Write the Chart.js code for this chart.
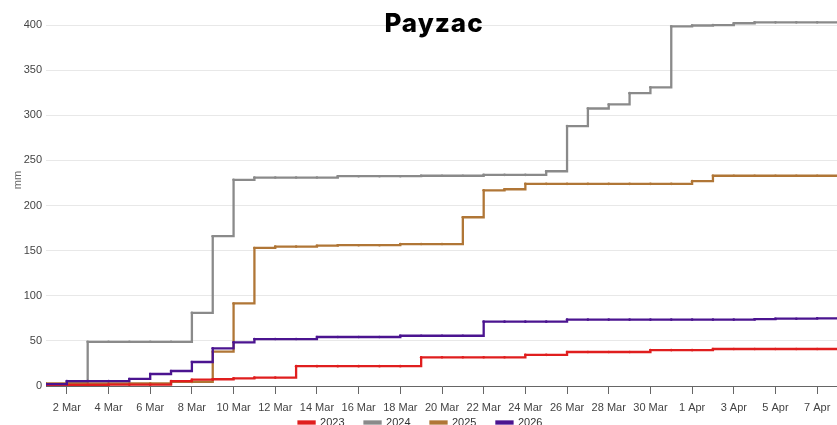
<!DOCTYPE html>
<html>
<head>
<meta charset="utf-8">
<script src="https://cdn.jsdelivr.net/npm/chart.js@4.4.1/dist/chart.umd.min.js"></script>
<style>
  html, body { margin: 0; padding: 0; background: #ffffff; overflow: hidden; }
  #wrap { position: relative; width: 841px; height: 455px; }
</style>
</head>
<body>
<div id="wrap"><canvas id="c"></canvas></div>
<script>
// Dates: 1 Mar .. 8 Apr (one value per day)
const dates = [
  '1 Mar','2 Mar','3 Mar','4 Mar','5 Mar','6 Mar','7 Mar','8 Mar','9 Mar','10 Mar',
  '11 Mar','12 Mar','13 Mar','14 Mar','15 Mar','16 Mar','17 Mar','18 Mar','19 Mar','20 Mar',
  '21 Mar','22 Mar','23 Mar','24 Mar','25 Mar','26 Mar','27 Mar','28 Mar','29 Mar','30 Mar',
  '31 Mar','1 Apr','2 Apr','3 Apr','4 Apr','5 Apr','6 Apr','7 Apr','8 Apr'
];
// Tick labels shown on the x axis (every second day)
const tickLabels = ['2 Mar','4 Mar','6 Mar','8 Mar','10 Mar','12 Mar','14 Mar','16 Mar','18 Mar','20 Mar',
  '22 Mar','24 Mar','26 Mar','28 Mar','30 Mar','1 Apr','3 Apr','5 Apr','7 Apr'];
const yTicks = [0, 50, 100, 150, 200, 250, 300, 350, 400];

const seriesNames = ['2023', '2024', '2025', '2026'];
const rain2023 = [1.2,1.2,1.2,1.5,1.5,1.5, 5.5,7,7.5,8.5,9.3,9.3, 22,22,22,22,22,22,
  31.8,31.8,31.8,31.8,31.8, 34.5,34.5, 37.7,37.7,37.7,37.7, 39.8,39.8,39.8, 41,41,41,41,41,41,41];
const rain2024 = [2,4.5, 49,49,49,49,49, 81,166,228.5, 231,231,231,231, 232.5,232.5,232.5,232.5,
  233,233,233, 234,234,234, 238,288,307.5,312,324.5,331,398.5,399.5,400,402, 403,403,403,403,403];
const rain2025 = [3,3,3,3,3,3, 4.5,4.5, 38,91.5,153, 154.5,154.5, 155.5, 156,156,156,
  157.3,157.3,157.3, 187,216.8,218, 224,224,224,224,224,224,224,224, 227, 233,233,233,233,233,233,233];
const rain2026 = [2, 5.5,5.5,5.5, 7.8,13.3,16.6,26.6,41.8,48.4, 52,52,52, 54.3,54.3,54.3,54.3,
  55.7,55.7,55.7,55.7, 71.3,71.3,71.3,71.3, 73.6,73.6,73.6,73.6,73.6,73.6,73.6,73.6,73.6, 74, 74.6,74.6, 75,75];

const colors = ['#e01e1e', '#8a8a8a', '#b07636', '#4b1490'];
const drawOrder = [1, 3, 2, 0];
const allSeries = [rain2023, rain2024, rain2025, rain2026];

function toPoints(arr) { return arr.map((v, i) => ({ x: i, y: v })); }

const datasets = allSeries.map((arr, k) => ({
  label: seriesNames[k],
  data: toPoints(arr),
  borderColor: colors[k],
  backgroundColor: colors[k],
  borderWidth: 2.3,
  stepped: true,
  pointRadius: 1.3,
  pointBorderWidth: 0,
  pointBackgroundColor: colors[k],
  pointHoverRadius: 3,
  order: drawOrder[k],
  fill: false
}));

const textPlugin = {
  id: 'textPlugin',
  afterLayout(chart) {
    // lift the legend so it sits right under the axis labels
    const lg = chart.legend;
    if (lg) { lg.top -= 17; lg.bottom -= 17; }
  },
  afterDraw(chart) {
    const ctx = chart.ctx;
    ctx.save();
    ctx.fillStyle = '#000000';
    ctx.font = '800 26px Inter, "Open Sans", sans-serif';
    try { ctx.letterSpacing = '1px'; } catch (e) {}
    ctx.textAlign = 'center';
    ctx.textBaseline = 'middle';
    ctx.fillText('Payzac', 434, 24);
    try { ctx.letterSpacing = '0px'; } catch (e) {}
    ctx.fillStyle = '#666666';
    ctx.font = '11px "Liberation Sans", Arial, sans-serif';
    ctx.translate(18, 180);
    ctx.rotate(-Math.PI / 2);
    ctx.fillText('mm', 0, 0);
    ctx.restore();
  }
};

new Chart(document.getElementById('c'), {
  type: 'line',
  data: { datasets },
  plugins: [textPlugin],
  options: {
    responsive: true,
    maintainAspectRatio: false,
    devicePixelRatio: 1,
    animation: false,
    layout: { padding: { top: 11.5, left: 0, right: 0, bottom: 0 } },
    plugins: {
      title: { display: false },
      tooltip: { enabled: true },
      legend: {
        display: true,
        position: 'bottom',
        labels: {
          boxWidth: 16,
          boxHeight: 2,
          padding: 20,
          color: '#333333',
          font: { family: '"Liberation Sans", Arial, sans-serif', size: 11 },
          sort: (a, b) => a.datasetIndex - b.datasetIndex
        }
      }
    },
    scales: {
      x: {
        type: 'linear',
        min: 0,
        max: dates.length - 1,
        afterBuildTicks: (scale) => {
          scale.ticks = tickLabels.map(l => ({ value: dates.indexOf(l) }));
        },
        afterFit: (scale) => { scale.height = 28; },
        ticks: {
          autoSkip: false,
          maxRotation: 0,
          padding: 7,
          color: '#444444',
          font: { family: '"Liberation Sans", Arial, sans-serif', size: 11 },
          callback: (v) => dates[v]
        },
        grid: {
          drawOnChartArea: false,
          drawTicks: true,
          tickLength: 8,
          color: '#666666'
        },
        border: { display: true, color: '#666666', width: 1 }
      },
      y: {
        type: 'linear',
        min: 0,
        max: 415,
        afterBuildTicks: (scale) => {
          scale.ticks = yTicks.map(v => ({ value: v }));
        },
        afterFit: (scale) => { scale.width = 46; },
        ticks: {
          padding: 4,
          color: '#444444',
          font: { family: '"Liberation Sans", Arial, sans-serif', size: 11 }
        },
        grid: {
          drawTicks: false,
          color: '#e8e8e8',
          lineWidth: 1
        },
        border: { display: false }
      }
    }
  }
});
</script>
</body>
</html>
